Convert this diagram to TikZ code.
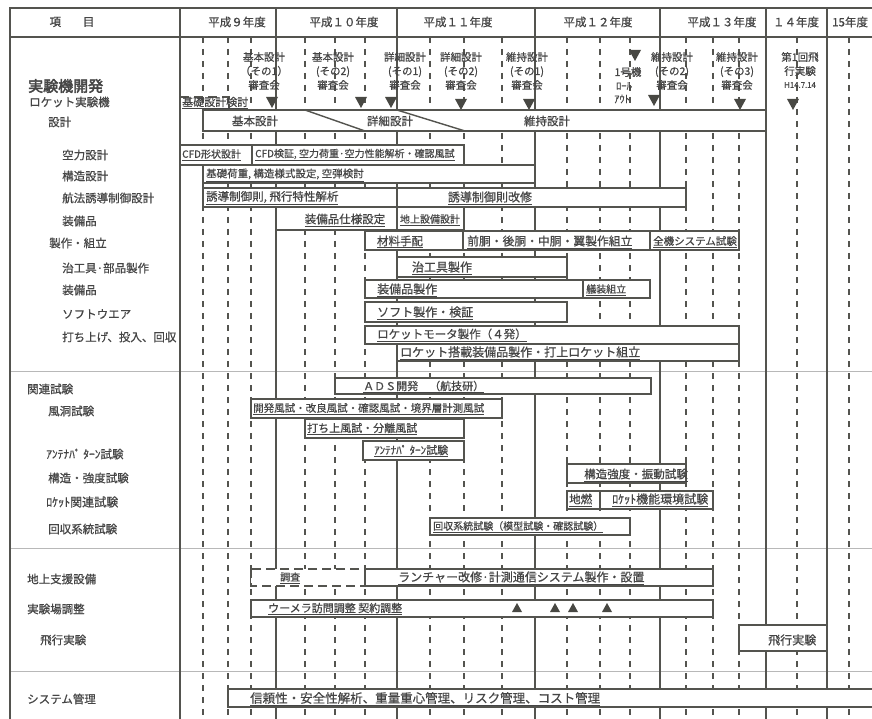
\documentclass[tikz,border=0pt]{standalone}
\usepackage{fontspec}
\setmainfont{Noto Sans CJK JP}[FakeBold=0.6]
\newfontfamily\boldjp{Noto Sans CJK JP}[FakeBold=2.8]
\definecolor{ln}{rgb}{0.33,0.33,0.31}
\definecolor{tx}{rgb}{0.27,0.27,0.27}
\definecolor{sepc}{rgb}{0.72,0.72,0.72}
\tikzset{
  framel/.style={draw=ln, line width=1.7pt},
  gsolid/.style={draw=ln, line width=1.5pt},
  gdash/.style={draw=ln, line width=1.2pt, dash pattern=on 6pt off 6pt},
  sepline/.style={draw=sepc, line width=0.8pt},
  barbox/.style={draw=ln, fill=white, line width=1.6pt},
  dbarbox/.style={draw=ln, fill=white, line width=1.6pt, dash pattern=on 9pt off 5pt},
  divl/.style={draw=ln, line width=1.4pt},
  lbl/.style={text=tx, anchor=west, inner sep=0pt, font=\fontsize{11.5}{13}\selectfont},
  hdr/.style={text=tx, inner sep=0pt, font=\fontsize{11.5}{13}\selectfont},
  btxt/.style={text=tx, anchor=west, inner sep=0pt},
  ctxt/.style={text=tx, inner sep=0pt},
  mtxt/.style={text=tx, inner sep=0pt, align=center, font=\fontsize{10.5}{14}\selectfont},
  mtri/.style={fill=ln!85!black, draw=none},
}
\newcommand{\gbox}[4]{\path[barbox] (#1,#2) rectangle (#3,#4);}
\newcommand{\mdown}[2]{\fill[mtri] ({#1-6},#2) -- ({#1+6},#2) -- (#1,{#2+11}) -- cycle;}
\newcommand{\mup}[2]{\fill[mtri] ({#1-5},{#2+4}) -- ({#1+5},{#2+4}) -- (#1,{#2-5}) -- cycle;}
\newcommand{\fs}[1]{\fontsize{#1}{#1}\selectfont}
\newcommand{\ul}[1]{\underline{#1}}
\begin{document}
\begin{tikzpicture}[x=1pt,y=-1pt]
\useasboundingbox (0,0) rectangle (872,719);
\fill[white] (0,0) rectangle (872,719);
% separators
\foreach \yy in {371,548,671} \draw[sepline] (10,\yy) -- (872,\yy);
% grid
\foreach \xx in {203,228,251,305,335,365,430,464,502,567,600,630,686,713,739,797,849}
  \draw[gdash] (\xx,37) -- (\xx,719);
\foreach \xx in {276,397,535,660,766,827}
  \draw[gsolid] (\xx,37) -- (\xx,719);
% frame
\draw[framel] (872,8) -- (10,8) -- (10,719);
\draw[framel] (10,37) -- (872,37);
\draw[framel] (180,8) -- (180,719);
\foreach \xx in {276,397,535,660,766,827} \draw[framel] (\xx,8) -- (\xx,37);
% header
\node[hdr] (h0) at (72,22) {項\hspace{1.9em}目};
\node[hdr] (h9) at (237,22) {平成９年度};
\node[hdr] (h10) at (344,22) {平成１０年度};
\node[hdr] (h11) at (458,22) {平成１１年度};
\node[hdr] (h12) at (598,22) {平成１２年度};
\node[hdr] (h13) at (722,22) {平成１３年度};
\node[hdr] (h14) at (796,22) {１４年度};
\node[hdr, anchor=west] (h15) at (832,22) {15年度};
% left labels
\node[lbl, font=\fs{15}\boldjp] (L0) at (28,86) {実験機開発};
\node[lbl] (L1) at (29,102) {ロケット実験機};
\node[lbl] (L2) at (48,122) {設計};
\node[lbl] (L3) at (62,155) {空力設計};
\node[lbl] (L4) at (62,176) {構造設計};
\node[lbl] (L5) at (62,198) {航法誘導制御設計};
\node[lbl] (L6) at (62,221) {装備品};
\node[lbl] (L7) at (49,243) {製作・組立};
\node[lbl] (L8) at (62,268) {治工具·部品製作};
\node[lbl] (L9) at (62,290) {装備品};
\node[lbl] (L10) at (62,314) {ソフトウエア};
\node[lbl] (L11) at (62,337) {打ち上げ、投入、回収};
\node[lbl] (L12) at (27,389) {関連試験};
\node[lbl] (L13) at (48,411) {風洞試験};
\node[lbl, font=\fs{11.5}] (L14) at (46,454) {ｱﾝﾃﾅﾊﾟ ﾀｰﾝ試験};
\node[lbl] (L15) at (48,478) {構造・強度試験};
\node[lbl, font=\fs{12}] (L16) at (46,502) {ﾛｹｯﾄ関連試験};
\node[lbl] (L17) at (48,529) {回収系統試験};
\node[lbl] (L18) at (27,579) {地上支援設備};
\node[lbl] (L19) at (27,609) {実験場調整};
\node[lbl] (L20) at (40,640) {飛行実験};
\node[lbl] (L21) at (27,699) {システム管理};
% milestones
\node[mtxt] (m1) at (264,71) {基本設計\\（その1）\\審査会};
\node[mtxt] (m2) at (333,71) {基本設計\\(その2)\\審査会};
\node[mtxt] (m3) at (405,71) {詳細設計\\(その1)\\審査会};
\node[mtxt] (m4) at (461,71) {詳細設計\\(その2)\\審査会};
\node[mtxt] (m5) at (527,71) {維持設計\\(その1)\\審査会};
\node[mtxt] (m6) at (672,71) {維持設計\\(その2)\\審査会};
\node[mtxt] (m7) at (737,71) {維持設計\\(その3)\\審査会};
\node[mtxt] (m8a) at (800,64) {第1回飛\\行実験};
\node[ctxt, font=\fs{7.8}] (m8b) at (800,85) {H14.7.14};
\node[ctxt, font=\fs{10.5}] (r1) at (628,72) {1号機};
\node[ctxt, font=\fs{10.5}] (r2) at (624,86) {ﾛｰﾙ};
\node[ctxt, font=\fs{10.5}] (r3) at (622,99) {ｱｳﾄ};
\mdown{272}{97}
\mdown{361}{97}
\mdown{391}{97}
\mdown{461}{99}
\mdown{529}{99}
\mdown{635}{50}
\mdown{654}{95}
\mdown{740}{99}
\mdown{793}{99}
% ---- design
\draw[dbarbox, fill=none] (180,97) -- (229,97) -- (229,110);
\node[btxt, font=\fs{11}] (t0) at (182,103) {\ul{基礎設計検討}};
\gbox{203}{110}{766}{131}
\draw[divl] (305,110) -- (365,131);
\draw[divl] (397,110) -- (465,131);
\node[ctxt, font=\fs{11.5}] (t1) at (255,121) {基本設計};
\node[ctxt, font=\fs{11.5}] (t2) at (390,121) {詳細設計};
\node[ctxt, font=\fs{11.5}] (t3) at (547,121) {維持設計};
\gbox{180}{145}{464}{165}
\draw[divl] (252,145) -- (252,165);
\node[btxt, font=\fs{10}] (t4) at (182,155) {\ul{CFD形状設計}};
\node[btxt, font=\fs{10}] (t5) at (255,155) {\ul{CFD検証, 空力荷重·空力性能解析・確認風試}};
\gbox{203}{165}{535}{183}
\node[btxt, font=\fs{10.5}] (t6) at (206,175) {\ul{基礎荷重, 構造様式設定, 空弾検討}};
\gbox{203}{188}{686}{207}
\draw[divl] (397,188) -- (397,207);
\node[btxt, font=\fs{11.5}] (t7) at (206,198) {\ul{誘導制御則, 飛行特性解析}};
\node[ctxt, font=\fs{12}] (t8) at (490,198) {\ul{誘導制御則改修}};
\gbox{276}{207}{464}{230}
\draw[divl] (397,207) -- (397,230);
\node[ctxt, font=\fs{11.5}] (t9) at (345,220) {\ul{装備品仕様設定}};
\node[ctxt, font=\fs{10}] (t10) at (430,220) {\ul{地上設備設計}};
% ---- manufacture
\gbox{365}{231}{739}{250}
\draw[divl] (463,231) -- (463,250);
\draw[divl] (650,231) -- (650,250);
\node[ctxt, font=\fs{11.5}] (t11) at (400,242) {\ul{材料手配}};
\node[btxt, font=\fs{11.8}] (t12) at (467,242) {\ul{前胴・後胴・中胴・翼製作組立}};
\node[ctxt, font=\fs{10.5}] (t13) at (695,242) {\ul{全機システム試験}};
\gbox{397}{257}{567}{277}
\node[ctxt, font=\fs{12}] (t14) at (442,268) {\ul{治工具製作}};
\gbox{365}{280}{650}{298}
\draw[divl] (583,280) -- (583,298);
\node[btxt, font=\fs{12}] (t15) at (377,290) {\ul{装備品製作}};
\node[btxt, font=\fs{10}] (t16) at (586,290) {\ul{艤装組立}};
\gbox{365}{302}{567}{322}
\node[btxt, font=\fs{12}] (t17) at (377,313) {\ul{ソフト製作・検証}};
\gbox{365}{326}{739}{344}
\node[btxt, font=\fs{11.5}] (t18) at (377,335) {\ul{ロケットモータ製作（４発）}};
\gbox{397}{344}{739}{361}
\node[btxt, font=\fs{12}] (t19) at (400,353) {\ul{ロケット搭載装備品製作・打上ロケット組立}};
% ---- tests
\gbox{335}{378}{651}{394}
\node[btxt, font=\fs{11}] (t20) at (363,387) {\ul{ＡＤＳ開発　（航技研）}};
\gbox{251}{399}{502}{418}
\node[btxt, font=\fs{10.5}] (t21) at (253,409) {\ul{開発風試・改良風試・確認風試・境界層計測風試}};
\gbox{305}{419}{464}{438}
\node[btxt, font=\fs{11}] (t22) at (307,429) {\ul{打ち上風試・分離風試}};
\gbox{363}{441}{464}{460}
\node[btxt, font=\fs{11}] (t23) at (374,451) {\ul{ｱﾝﾃﾅﾊﾟ ﾀｰﾝ試験}};
\gbox{567}{464}{686}{483}
\node[ctxt, font=\fs{11.5}] (t24) at (636,475) {\ul{構造強度・振動試験}};
\gbox{567}{491}{713}{509}
\draw[divl] (600,491) -- (600,509);
\node[btxt, font=\fs{11.5}] (t25) at (569,500) {\ul{地燃}};
\node[btxt, font=\fs{12}] (t26) at (612,500) {\ul{ﾛｹｯﾄ機能環境試験}};
\gbox{430}{518}{630}{535}
\node[btxt, font=\fs{10}] (t27) at (433,527) {\ul{回収系統試験（模型試験・確認試験）}};
% ---- ground / range / flight
\path[dbarbox] (251,569) rectangle (365,586);
\node[btxt, font=\fs{10}] (t28) at (280,578) {\ul{調査}};
\gbox{365}{569}{713}{586}
\node[btxt, font=\fs{12}] (t29) at (398,578) {\ul{ランチャー改修·計測通信システム製作・設置}};
\gbox{251}{600}{713}{617}
\node[btxt, font=\fs{11}] (t30) at (268,609) {\ul{ウーメラ訪問調整 契約調整}};
\mup{517}{608}
\mup{555}{608}
\mup{573}{608}
\mup{607}{608}
\gbox{739}{625}{827}{651}
\node[btxt, font=\fs{12}] (t31) at (768,640) {飛行実験};
\gbox{228}{689}{880}{707}
\node[btxt, font=\fs{12.5}] (t32) at (250,699) {\ul{信頼性・安全性解析、重量重心管理、リスク管理、コスト管理}};
\end{tikzpicture}
\end{document}
